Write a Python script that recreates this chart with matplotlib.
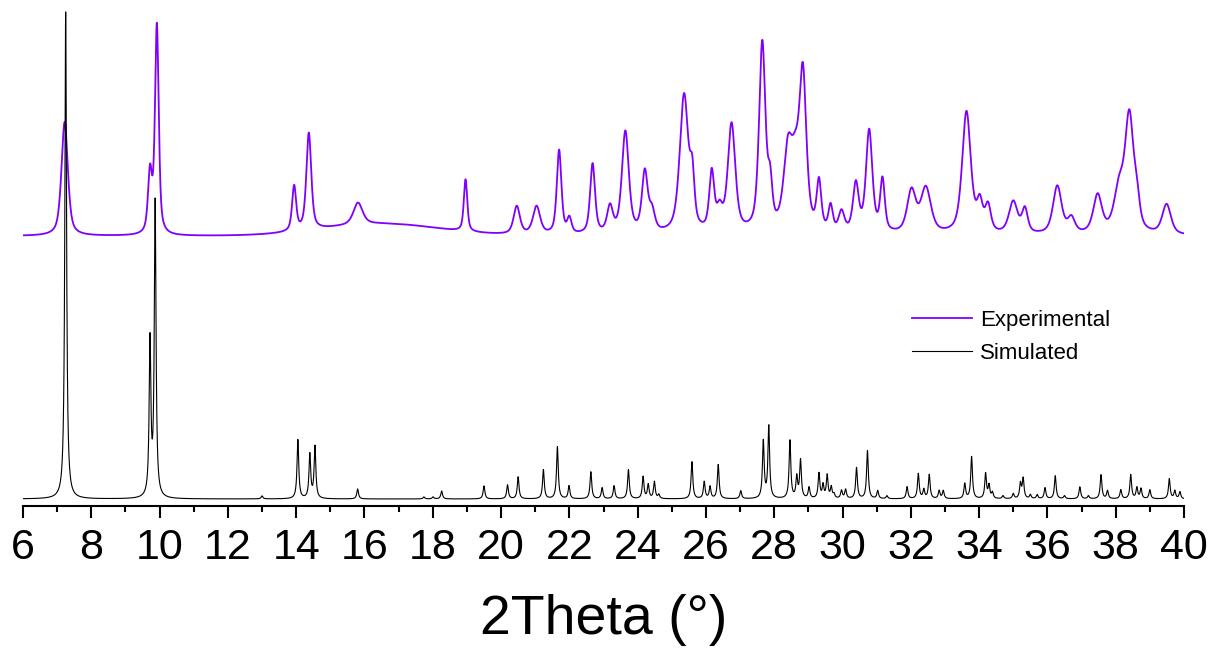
import numpy as np
import matplotlib
matplotlib.use("Agg")
import matplotlib.pyplot as plt
from matplotlib.ticker import MultipleLocator

plt.rcParams['font.family'] = ['Liberation Sans', 'DejaVu Sans']

# ---------------- data ----------------
# Simulated pattern: reflection positions (2theta, deg) and relative heights
sim_pos = [7.25, 9.72, 9.87, 13.0, 14.05, 14.40, 14.55, 15.80, 17.74, 18.01, 18.26,
           19.50, 20.19, 20.50, 21.24, 21.65, 21.99, 22.63, 22.96, 23.31, 23.73,
           24.16, 24.31, 24.49, 24.62, 25.59, 25.95, 26.12, 26.36, 27.02, 27.68,
           27.84, 28.46, 28.66, 28.77, 29.02, 29.31, 29.43, 29.55, 29.67, 29.75,
           29.97, 30.09, 30.41, 30.73, 31.03, 31.30, 31.89, 32.22, 32.38, 32.54,
           32.83, 32.95, 33.58, 33.78, 34.19, 34.29, 34.39, 34.70, 35.00, 35.21,
           35.29, 35.50, 35.70, 35.93, 36.23, 36.50, 36.95, 37.20, 37.57, 37.76,
           38.15, 38.44, 38.62, 38.74, 39.00, 39.57, 39.73, 39.88]
sim_int = [487, 155, 295, 3, 59, 44, 52, 10, 2, 2, 8,
           13, 14, 22, 29, 52, 13, 27, 11, 13, 29,
           22, 14, 17, 4, 37, 17, 12, 34, 8, 57,
           72, 58, 21, 38, 11, 25, 13, 23, 11, 4,
           8, 9, 31, 48, 8, 3, 12, 25, 9, 24,
           8, 8, 15, 42, 25, 13, 6, 3, 5, 15,
           20, 4, 4, 11, 23, 3, 12, 3, 24, 8,
           9, 24, 11, 10, 9, 20, 8, 7]

# Experimental pattern: observed reflections (2theta, height, FWHM)
exp_pos = [7.22, 9.72, 9.92, 13.94, 14.37, 15.81, 18.96, 20.46, 21.04, 21.70,
           22.00, 22.68, 23.19, 23.64, 24.21, 24.42, 25.36, 25.60, 26.17, 26.40,
           26.75, 27.65, 27.88, 28.40, 28.62, 28.84, 29.31, 29.65, 29.97, 30.39,
           30.78, 31.17, 32.02, 32.44, 33.63, 34.02, 34.26, 35.00, 35.34, 36.29,
           36.70, 37.47, 38.10, 38.40, 38.62, 39.49]
exp_int = [114, 60, 209, 45, 97, 22, 52, 28, 28, 84,
           15, 70, 26, 102, 60, 20, 138, 45, 58, 20,
           108, 188, 40, 75, 55, 150, 48, 25, 20, 48,
           102, 52, 42, 45, 122, 28, 26, 32, 24, 48,
           15, 38, 42, 114, 24, 30]
exp_fwhm = [0.22, 0.14, 0.13, 0.14, 0.17, 0.32, 0.12, 0.22, 0.25, 0.16,
            0.15, 0.17, 0.20, 0.24, 0.20, 0.20, 0.30, 0.15, 0.17, 0.20,
            0.26, 0.22, 0.15, 0.30, 0.30, 0.24, 0.16, 0.15, 0.20, 0.20,
            0.22, 0.16, 0.30, 0.35, 0.30, 0.20, 0.20, 0.30, 0.20, 0.30,
            0.25, 0.30, 0.35, 0.30, 0.20, 0.30]
exp_background = 270        # flat background level of the experimental trace
exp_hump = (16.5, 12, 4.0)  # broad amorphous hump: centre, height, FWHM
sim_baseline = 7
sim_fwhm = 0.06

series_labels = ["Experimental", "Simulated"]
x_ticks = list(range(6, 41, 2))
x_label = "2Theta (°)"

# ---------------- profiles ----------------
two_theta = np.arange(6.0, 40.0005, 0.005)


def lorentz(x, x0, h, w):
    return h / (1.0 + ((x - x0) / (w / 2.0)) ** 2)


def gauss(x, x0, h, w):
    return h * np.exp(-4.0 * np.log(2.0) * ((x - x0) / w) ** 2)


def pvoigt(x, x0, h, w, eta=0.6):
    return eta * lorentz(x, x0, h, w) + (1 - eta) * gauss(x, x0, h, w)


sim = np.full_like(two_theta, float(sim_baseline))
for p, h in zip(sim_pos, sim_int):
    sim += lorentz(two_theta, p, h, sim_fwhm)

exp = np.full_like(two_theta, float(exp_background))
exp += gauss(two_theta, *exp_hump)
for p, h, w in zip(exp_pos, exp_int, exp_fwhm):
    exp += pvoigt(two_theta, p, h, w)

# ---------------- figure ----------------
fig = plt.figure(figsize=(12.15, 6.51), dpi=100)
ax = fig.add_axes([23 / 1215, (651 - 506) / 651, 1161 / 1215, 506 / 651])

ax.plot(two_theta, exp, color='#7F00FF', lw=1.3, label=series_labels[0], zorder=2)
ax.plot(two_theta, sim, color='black', lw=0.8, label=series_labels[1], zorder=3)

ax.set_xlim(6, 40)
ax.set_ylim(0, 506)
ax.set_xticks(x_ticks)
ax.xaxis.set_minor_locator(MultipleLocator(1))
ax.tick_params(axis='x', which='major', direction='out', length=8.6, width=1.5,
               labelsize=31, pad=7)
ax.tick_params(axis='x', which='minor', direction='out', length=4.3, width=1.5)
ax.set_yticks([])
for s in ['top', 'right', 'left']:
    ax.spines[s].set_visible(False)
ax.spines['bottom'].set_linewidth(1.5)
ax.set_xlabel(x_label, fontsize=40, labelpad=19)
ax.patch.set_alpha(0)

leg = ax.legend(loc='upper left', bbox_to_anchor=(912 / 1215, (651 - 310) / 651),
                bbox_transform=fig.transFigure, frameon=False, fontsize=16,
                handlelength=2.7, handletextpad=0.36, labelspacing=0.55,
                borderpad=0, borderaxespad=0)

fig.savefig('out.png', dpi=100)
